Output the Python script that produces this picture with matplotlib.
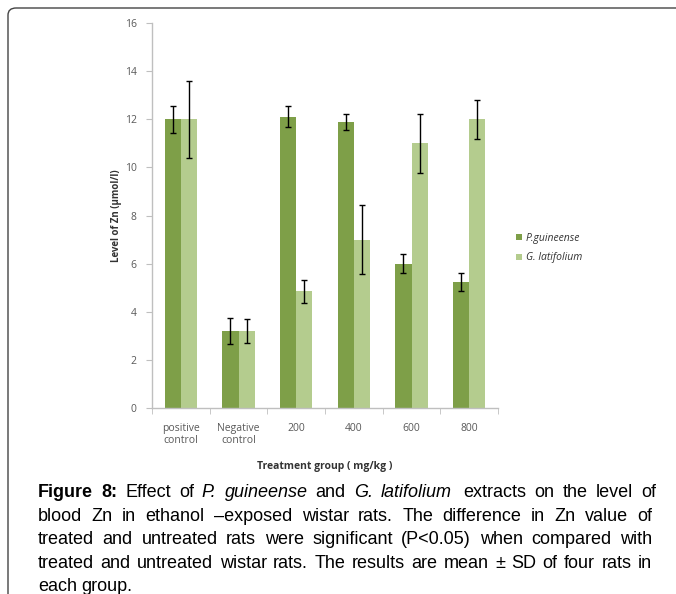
import matplotlib
matplotlib.use('Agg')
import matplotlib.pyplot as plt
import numpy as np
from matplotlib.patches import FancyBboxPatch

groups = ['positive\ncontrol', 'Negative\ncontrol', '200', '400', '600', '800']
p_guineense = [12.0, 3.2, 12.1, 11.9, 6.0, 5.25]
p_guineense_sd = [0.57, 0.52, 0.43, 0.33, 0.4, 0.38]
g_latifolium = [12.0, 3.2, 4.85, 7.0, 11.0, 12.0]
g_latifolium_sd = [1.6, 0.5, 0.49, 1.45, 1.23, 0.8]
yticks = [0, 2, 4, 6, 8, 10, 12, 14, 16]

caption = [
    [('Figure', 'b'), ('8:', 'b'), ('Effect', ''), ('of', ''), ('P.', 'i'), ('guineense', 'i'),
     ('and', ''), ('G.', 'i'), ('latifolium', 'i'), (' extracts', ''), ('on', ''), ('the', ''),
     ('level', ''), ('of', '')],
    [(w, '') for w in 'blood Zn in ethanol –exposed wistar rats. The difference in Zn value of'.split()],
    [(w, '') for w in 'treated and untreated rats were significant (P<0.05) when compared with'.split()],
    [(w, '') for w in 'treated and untreated wistar rats. The results are mean ± SD of four rats in'.split()],
    [(w, '') for w in 'each group.'.split()],
]

W, H = 676, 594
dark = '#7e9f48'
light = '#b4cc8e'
grey = '#595959'

fig = plt.figure(figsize=(W / 100, H / 100), dpi=100)
fig.patch.set_facecolor('white')

# frame round the figure (open on right and bottom)
frame = FancyBboxPatch((8 / W, -0.2), 1.2, (H - 8) / H + 0.2,
                       boxstyle='round,pad=0,rounding_size=0.012',
                       transform=fig.transFigure, fill=False,
                       edgecolor='#444444', linewidth=1.0)
fig.patches.append(frame)

ax = fig.add_axes([152 / W, (H - 408) / H, 346 / W, 385 / H])
x = np.arange(len(groups))
bw = 0.28
ax.bar(x - bw / 2, p_guineense, bw, color=dark, label='P.guineense')
ax.bar(x + bw / 2, g_latifolium, bw, color=light, label='G. latifolium')
ax.errorbar(x - bw / 2, p_guineense, yerr=p_guineense_sd, fmt='none',
            ecolor='black', elinewidth=1, capsize=2.5, capthick=1)
ax.errorbar(x + bw / 2, g_latifolium, yerr=g_latifolium_sd, fmt='none',
            ecolor='black', elinewidth=1, capsize=2.5, capthick=1)

ax.set_xlim(-0.5, len(groups) - 0.5)
ax.set_ylim(0, 16)
ax.set_yticks(yticks)
ax.set_yticklabels([str(t) for t in yticks], fontsize=7.5, color=grey, family='Open Sans')
ax.set_xticks(x)
ax.set_xticklabels(groups, fontsize=7.5, color=grey, family='Open Sans', linespacing=1.1)
ax.tick_params(axis='x', length=0, pad=11)
ax.set_xticks(np.arange(len(groups) + 1) - 0.5, minor=True)
ax.tick_params(axis='x', which='minor', length=4, color='#bfbfbf', direction='out')
ax.tick_params(axis='y', length=4, color='#bfbfbf', direction='out', pad=7)
for s in ['top', 'right']:
    ax.spines[s].set_visible(False)
for s in ['left', 'bottom']:
    ax.spines[s].set_color('#bfbfbf')
    ax.spines[s].set_linewidth(1)

ax.set_ylabel('Level of Zn (µmol/l)', fontsize=7, fontweight='bold', color='#333333',
              family='Open Sans', labelpad=2)
ax.set_xlabel('Treatment group ( mg/kg )', fontsize=7.5, fontweight='bold', color='#333333',
              family='Open Sans', labelpad=11)

leg = ax.legend(loc='center left', bbox_to_anchor=((516 - 152) / 346, (408 - 248) / 385),
                frameon=False, borderpad=0, borderaxespad=0,
                prop={'size': 7.5, 'style': 'italic', 'family': 'Open Sans'},
                handlelength=0.55, handleheight=0.55, handletextpad=0.4, labelspacing=0.85)
for t in leg.get_texts():
    t.set_color('#333333')

# justified caption
fig.canvas.draw()
r = fig.canvas.get_renderer()
left_px, right_px = 38, 652
base0, step = 497, 23.6
for i, line in enumerate(caption):
    texts = []
    for w, st in line:
        t = fig.text(0, 0, w.strip(), fontsize=13, family='Liberation Sans',
                     fontweight='bold' if st == 'b' else 'normal',
                     fontstyle='italic' if st == 'i' else 'normal',
                     va='baseline', ha='left', color='black')
        texts.append(t)
    widths = [t.get_window_extent(r).width for t in texts]
    yb = 1 - (base0 + i * step) / H
    if i < len(caption) - 1:
        gap = (right_px - left_px - sum(widths)) / (len(texts) - 1)
    else:
        gap = 4.5
    cur = left_px
    for j, (t, wd) in enumerate(zip(texts, widths)):
        if line[j][0].startswith(' '):
            cur += 4
        t.set_position((cur / W, yb))
        cur += wd + gap

fig.savefig('out.png', dpi=100, facecolor='white')
